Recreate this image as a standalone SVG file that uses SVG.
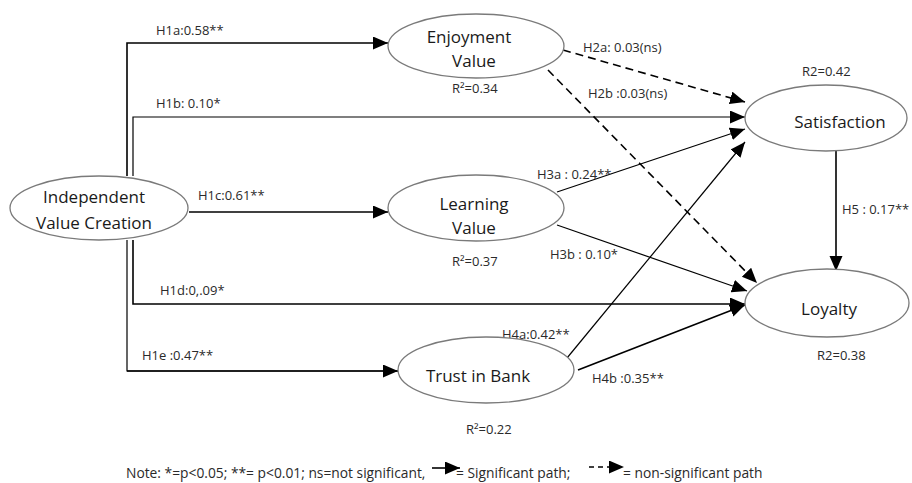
<svg xmlns="http://www.w3.org/2000/svg" width="912" height="483" viewBox="0 0 912 483">
<defs>
<marker id="ah" markerUnits="userSpaceOnUse" markerWidth="16" markerHeight="14" refX="15" refY="6.5" orient="auto">
<path d="M0,0 L15,6.5 L0,13 z" fill="#000"/>
</marker>
<style>
.node ellipse{fill:#fff;stroke:#7a7a7a;stroke-width:1.3}
.nt{font-family:"Open Sans","Noto Sans",sans-serif;font-size:17px;fill:#1a1a1a;text-anchor:middle}
.lb{font-family:"Open Sans","Noto Sans",sans-serif;font-size:13px;fill:#2a2a2a}
.nn{font-size:13.8px}
.ln{fill:none;stroke:#000;stroke-width:1.6}
.th{stroke-width:1.2}
.ds{stroke-dasharray:8,5}
.ar{marker-end:url(#ah)}
</style>
</defs>
<rect width="912" height="483" fill="#fff"/>
<g id="connectors">
<polyline class="ln ar" points="127,176 127,43 388,43"/>
<polyline class="ln th ar" points="133,176 133,117 745,117"/>
<polyline class="ln th" points="127,240 127,371 398,371"/>
<line class="ln ar" x1="127" y1="371" x2="398" y2="371"/>
<polyline class="ln ar" points="133,240 133,304 745,304"/>
<line class="ln ar" x1="189" y1="212" x2="388" y2="212"/>
<line class="ln ds ar" x1="563" y1="50" x2="745" y2="102"/>
<line class="ln ds ar" x1="548" y1="70" x2="757" y2="283"/>
<line class="ln th ar" x1="557" y1="192" x2="745" y2="129"/>
<line class="ln th ar" x1="567" y1="358" x2="745" y2="142"/>
<line class="ln th ar" x1="557" y1="225" x2="747" y2="291"/>
<line class="ln ar" x1="578" y1="370" x2="745" y2="305"/>
<line class="ln ar" x1="836" y1="151" x2="836" y2="271"/>
</g>
<g id="labels">
<text class="lb" x="156" y="35">H1a:0.58**</text>
<text class="lb" x="156" y="108">H1b: 0.10*</text>
<text class="lb" x="198" y="200">H1c:0.61**</text>
<text class="lb" x="160" y="295">H1d:0,.09*</text>
<text class="lb" x="142" y="360">H1e :0.47**</text>
<text class="lb" x="583" y="52">H2a: 0.03(ns)</text>
<text class="lb" x="588" y="98">H2b :0.03(ns)</text>
<text class="lb" x="537" y="179">H3a : 0.24**</text>
<text class="lb" x="550" y="259">H3b : 0.10*</text>
<text class="lb" x="502" y="339">H4a:0.42**</text>
<text class="lb" x="592" y="383">H4b :0.35**</text>
<text class="lb" x="842" y="214">H5 : 0.17**</text>
<text class="lb" x="452" y="93">R²=0.34</text>
<text class="lb" x="802" y="76">R2=0.42</text>
<text class="lb" x="452" y="266">R²=0.37</text>
<text class="lb" x="817" y="360">R2=0.38</text>
<text class="lb" x="466" y="434">R²=0.22</text>
</g>
<g id="n-ivc" class="node"><ellipse cx="99" cy="208" rx="89" ry="32"/><text class="nt" x="94" y="203">Independent</text><text class="nt" x="94" y="229">Value Creation</text></g>
<g id="n-enjoy" class="node"><ellipse cx="476" cy="46" rx="88" ry="32"/><text class="nt" x="469" y="43">Enjoyment</text><text class="nt" x="474" y="67">Value</text></g>
<g id="n-learn" class="node"><ellipse cx="476" cy="208" rx="88" ry="33"/><text class="nt" x="474" y="210">Learning</text><text class="nt" x="474" y="234">Value</text></g>
<g id="n-trust" class="node"><ellipse cx="486" cy="370" rx="88" ry="33"/><text class="nt" x="478" y="382">Trust in Bank</text></g>
<g id="n-sat" class="node"><ellipse cx="826" cy="118" rx="81" ry="33"/><text class="nt" x="840" y="128">Satisfaction</text></g>
<g id="n-loy" class="node"><ellipse cx="827" cy="303" rx="82" ry="34"/><text class="nt" x="829" y="315">Loyalty</text></g>
<g id="legend">
<text class="lb nn" x="126" y="478">Note: *=p&lt;0.05; **= p&lt;0.01; ns=not significant,</text>
<line class="ln ar" x1="432" y1="468" x2="460" y2="468"/>
<text class="lb nn" x="456" y="478">= Significant path;</text>
<line class="ln ds ar" x1="589" y1="467" x2="624" y2="467" style="stroke-dasharray:5,4"/>
<text class="lb nn" x="623" y="478">= non-significant path</text>
</g>
</svg>
